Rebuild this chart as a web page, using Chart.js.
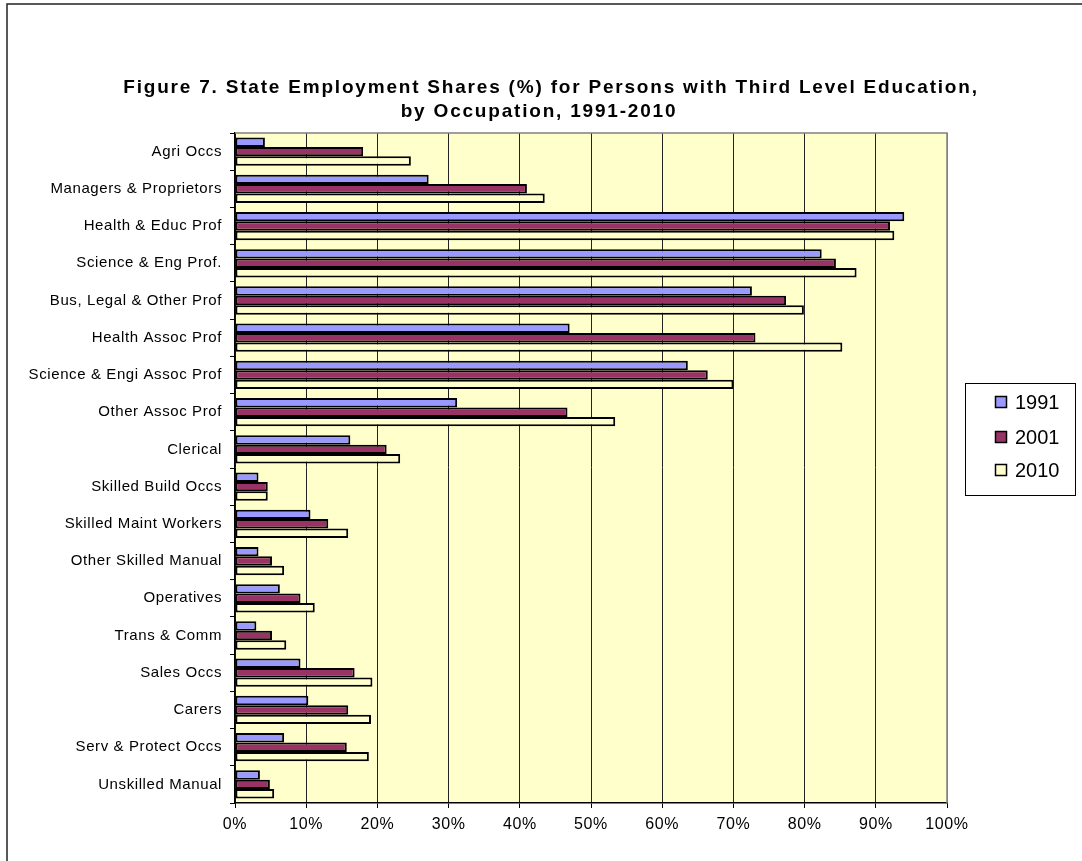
<!DOCTYPE html>
<html>
<head>
<meta charset="utf-8">
<script src="https://cdn.jsdelivr.net/npm/chart.js@4/dist/chart.umd.min.js"></script>
<style>
  body { margin: 0; background: #fff; }
  #wrap { width: 1082px; height: 861px; }
</style>
</head>
<body>
<div id="wrap"><canvas id="chart" width="1082" height="861"></canvas></div>
<script>
// ===== dados =====
const categories = [
    'Agri Occs', 'Managers & Proprietors', 'Health & Educ Prof', 'Science & Eng Prof.',
    'Bus, Legal & Other Prof', 'Health Assoc Prof', 'Science & Engi Assoc Prof', 'Other Assoc Prof',
    'Clerical', 'Skilled Build Occs', 'Skilled Maint Workers', 'Other Skilled Manual',
    'Operatives', 'Trans & Comm', 'Sales Occs', 'Carers', 'Serv & Protect Occs', 'Unskilled Manual'
];
const seriesNames = ['1991', '2001', '2010'];
const values1991 = [4.2, 27.2, 94.0, 82.4, 72.6, 47.0, 63.6, 31.2, 16.2, 3.3, 10.6, 3.3, 6.3, 3.0, 9.2, 10.3, 6.9, 3.5];
const values2001 = [18.0, 41.0, 92.0, 84.4, 77.4, 73.1, 66.4, 46.7, 21.3, 4.6, 13.1, 5.2, 9.2, 5.2, 16.8, 15.9, 15.7, 4.9];
const values2010 = [24.7, 43.5, 92.6, 87.3, 79.9, 85.3, 70.0, 53.4, 23.2, 4.6, 15.9, 6.9, 11.2, 7.2, 19.3, 19.1, 18.8, 5.5];
const xTicks = [0, 10, 20, 30, 40, 50, 60, 70, 80, 90, 100];
const titleLines = [
    'Figure 7. State Employment Shares (%) for Persons with Third Level Education,',
    'by Occupation, 1991-2010'
];

const colors = ['#9999FF', '#993366', '#FFFFCC'];
const plotBg = '#FFFFCC';

// Moldura, fundo da área do gráfico, título e legenda
const decorPlugin = {
    id: 'decor',
    beforeUpdate(chart) {
        chart.ctx.letterSpacing = '0.6px';
    },
    beforeDraw(chart) {
        const ctx = chart.ctx;
        const a = chart.chartArea;
        ctx.save();
        ctx.fillStyle = '#fff';
        ctx.fillRect(0, 0, chart.width, chart.height);
        ctx.strokeStyle = '#222';
        ctx.lineWidth = 1.5;
        ctx.beginPath();
        ctx.moveTo(7, chart.height + 2);
        ctx.lineTo(7, 4);
        ctx.lineTo(chart.width + 2, 4);
        ctx.stroke();
        ctx.fillStyle = plotBg;
        ctx.fillRect(a.left, a.top, a.right - a.left, a.bottom - a.top);
        ctx.restore();
        ctx.letterSpacing = '0.6px';
    },
    afterDraw(chart) {
        const ctx = chart.ctx;
        const a = chart.chartArea;
        ctx.save();
        // borda cinza do topo / direita
        ctx.strokeStyle = '#808080';
        ctx.lineWidth = 1.5;
        ctx.beginPath();
        ctx.moveTo(a.left, a.top);
        ctx.lineTo(a.right, a.top);
        ctx.lineTo(a.right, a.bottom);
        ctx.stroke();

        // título
        ctx.fillStyle = '#000';
        ctx.textAlign = 'center';
        ctx.textBaseline = 'middle';
        ctx.font = 'bold 19px Arial, "Liberation Sans", sans-serif';
        ctx.letterSpacing = '1.8px';
        ctx.fillText(titleLines[0], 551, 88);
        ctx.fillText(titleLines[1], 539, 112);

        // legenda
        ctx.letterSpacing = '0px';
        ctx.strokeStyle = '#000';
        ctx.lineWidth = 1;
        ctx.fillStyle = '#fff';
        ctx.fillRect(965.5, 383.5, 110, 112);
        ctx.strokeRect(965.5, 383.5, 110, 112);
        ctx.font = '20px Arial, "Liberation Sans", sans-serif';
        ctx.textAlign = 'left';
        const rows = [402, 437, 470];
        chart.data.datasets.forEach((ds, i) => {
            ctx.fillStyle = ds.backgroundColor;
            ctx.fillRect(995.5, rows[i] - 5.5, 11, 11);
            ctx.lineWidth = 1.5;
            ctx.strokeRect(995.5, rows[i] - 5.5, 11, 11);
            ctx.fillStyle = '#000';
            ctx.fillText(ds.label, 1015, rows[i] + 1);
        });
        ctx.restore();
    }
};

const barStyle = {
    borderColor: '#000',
    borderWidth: 2,
    borderSkipped: false,
    categoryPercentage: 0.76,
    barPercentage: 1.0
};

new Chart(document.getElementById('chart').getContext('2d'), {
    type: 'bar',
    data: {
        labels: categories,
        datasets: [
            Object.assign({ label: seriesNames[0], data: values1991, backgroundColor: colors[0] }, barStyle),
            Object.assign({ label: seriesNames[1], data: values2001, backgroundColor: colors[1] }, barStyle),
            Object.assign({ label: seriesNames[2], data: values2010, backgroundColor: colors[2] }, barStyle)
        ]
    },
    options: {
        indexAxis: 'y',
        responsive: false,
        animation: false,
        layout: { padding: { left: 7, right: 135, top: 133, bottom: 0 } },
        plugins: {
            legend: { display: false },
            title: { display: false },
            tooltip: { enabled: false }
        },
        scales: {
            x: {
                min: 0,
                max: 100,
                afterFit: function(scale) { scale.height = 58; },
                afterBuildTicks: function(scale) {
                    scale.ticks = xTicks.map(v => ({ value: v }));
                },
                ticks: {
                    color: '#000',
                    font: { family: 'Arial, "Liberation Sans", sans-serif', size: 16 },
                    padding: 7,
                    maxRotation: 0,
                    callback: function(value) { return value + '%'; }
                },
                grid: {
                    color: function(ctx) {
                        return ctx.tick && ctx.tick.value === 100 ? '#808080' : '#222';
                    },
                    lineWidth: 1,
                    tickLength: 5,
                    tickColor: '#000'
                },
                border: { display: true, color: '#000', width: 1.5 }
            },
            y: {
                afterFit: function(scale) { scale.width = 228; },
                ticks: {
                    color: '#000',
                    font: { family: 'Arial, "Liberation Sans", sans-serif', size: 15 },
                    padding: 8,
                    autoSkip: false
                },
                grid: {
                    drawOnChartArea: false,
                    drawTicks: true,
                    tickLength: 5,
                    color: '#000',
                    offset: true
                },
                border: { display: true, color: '#000', width: 1.5 }
            }
        }
    },
    plugins: [decorPlugin]
});
</script>
</body>
</html>
